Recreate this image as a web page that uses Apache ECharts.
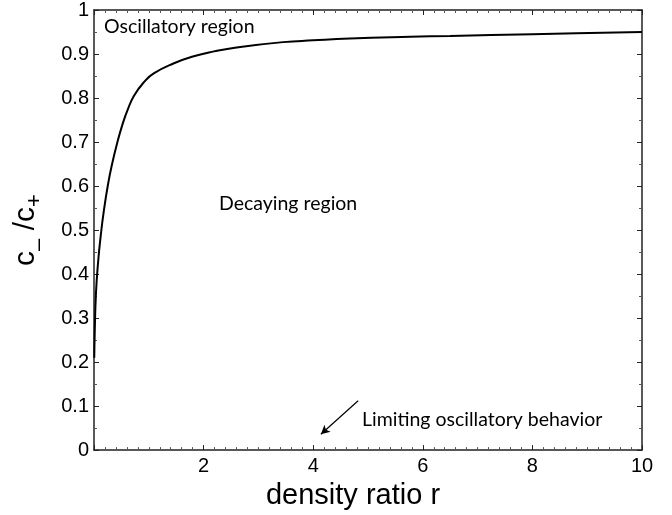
<!DOCTYPE html>
<html>
<head>
<meta charset="utf-8">
<script src="https://cdn.jsdelivr.net/npm/echarts@6/dist/echarts.min.js"></script>
<style>html,body{margin:0;padding:0;background:#fff}#c{width:672px;height:515px}</style>
</head>
<body>
<div id="c"></div>
<script>
const rValues = [0.005, 0.012, 0.036, 0.079, 0.12, 0.18, 0.256, 0.33, 0.43, 0.52, 0.61, 0.73, 0.91, 1.09, 1.46, 1.82, 2.19, 2.6, 3.45, 4.0, 4.67, 5.77, 6.5, 8.0, 8.8, 10];
const ratioValues = [0.21, 0.26, 0.357, 0.433, 0.484, 0.544, 0.604, 0.650, 0.701, 0.740, 0.772, 0.805, 0.836, 0.856, 0.879, 0.895, 0.906, 0.915, 0.927, 0.931, 0.935, 0.939, 0.941, 0.945, 0.947, 0.950];
const arrowFrom = [4.82, 0.112];
const arrowTo = [4.14, 0.036];
const xTitle = 'density ratio r';
const annotations = ['Oscillatory region', 'Decaying region', 'Limiting oscillatory behavior'];

const chart = echarts.init(document.getElementById('c'), null, {renderer: 'canvas'});
const axisColor = '#222';
const tickFont = {fontFamily: 'Liberation Sans, Arial, sans-serif', fontSize: 20, color: '#000'};
const noteFont = {fontFamily: 'Lato, "Open Sans", sans-serif', fontSize: 19.5, fill: '#000'};

const boxAxis = (extra) => Object.assign({
  axisLine: {show: true, onZero: false, lineStyle: {color: axisColor, width: 1.5}},
  axisTick: {show: true, inside: true, length: 5, lineStyle: {color: axisColor, width: 1}},
  minorTick: {show: true, length: 3, lineStyle: {color: '#555', width: 1}},
  splitLine: {show: false}
}, extra);

chart.setOption({
  animation: false,
  grid: {left: 94, right: 30, top: 10, bottom: 59},
  xAxis: [
    boxAxis({type: 'value', min: 0, max: 10, interval: 2, position: 'bottom',
      minorTick: {show: true, splitNumber: 10, length: 3, lineStyle: {color: '#555'}},
      axisLabel: Object.assign({margin: 6, formatter: v => v === 0 ? '' : String(v)}, tickFont),
      name: xTitle, nameLocation: 'middle', nameGap: 25,
      nameTextStyle: {fontFamily: 'Liberation Sans, Arial, sans-serif', fontSize: 29, color: '#000', padding: [0, 30, 0, 0]}
    }),
    boxAxis({type: 'value', min: 0, max: 10, interval: 2, position: 'top',
      minorTick: {show: true, splitNumber: 10, length: 3, lineStyle: {color: '#555'}},
      axisLabel: {show: false}})
  ],
  yAxis: [
    boxAxis({type: 'value', min: 0, max: 1, interval: 0.1, position: 'left',
      minorTick: {show: true, splitNumber: 2, length: 3, lineStyle: {color: '#555'}},
      axisLabel: Object.assign({margin: 5, formatter: v => String(+v.toFixed(1))}, tickFont),
      name: '{c|c}{s|\u2013}{c| /c}{p|+}', nameLocation: 'middle', nameRotate: 90, nameGap: 50,
      nameTextStyle: {
        rich: {
          c: {fontFamily: 'Liberation Sans, Arial, sans-serif', fontSize: 30, color: '#000', verticalAlign: 'middle', lineHeight: 36},
          s: {fontFamily: 'Liberation Sans, Arial, sans-serif', fontSize: 22, color: '#000', verticalAlign: 'bottom', lineHeight: 36, padding: [0, 0, -6, 0]},
          p: {fontFamily: 'Liberation Sans, Arial, sans-serif', fontSize: 22, color: '#000', verticalAlign: 'bottom', lineHeight: 36, padding: [0, 0, -2, 0]}
        }
      }
    }),
    boxAxis({type: 'value', min: 0, max: 1, interval: 0.1, position: 'right',
      minorTick: {show: true, splitNumber: 2, length: 3, lineStyle: {color: '#555'}},
      axisLabel: {show: false}})
  ],
  series: [{
    type: 'line',
    xAxisIndex: 0, yAxisIndex: 0,
    data: rValues.map((r, i) => [r, ratioValues[i]]),
    showSymbol: false,
    smooth: 0.5,
    lineStyle: {color: '#000', width: 2},
    markLine: {
      silent: true,
      symbol: ['none', 'arrow'],
      symbolSize: [7, 9],
      label: {show: false},
      lineStyle: {color: '#000', width: 1.2, type: 'solid'},
      data: [[{coord: arrowFrom}, {coord: arrowTo}]]
    }
  }],
  graphic: [
    {type: 'text', left: 104, top: 17, style: Object.assign({text: annotations[0]}, noteFont)},
    {type: 'text', left: 219, top: 194, style: Object.assign({text: annotations[1]}, noteFont)},
    {type: 'text', left: 362, top: 410, style: Object.assign({text: annotations[2]}, noteFont)}
  ]
});
</script>
</body>
</html>
